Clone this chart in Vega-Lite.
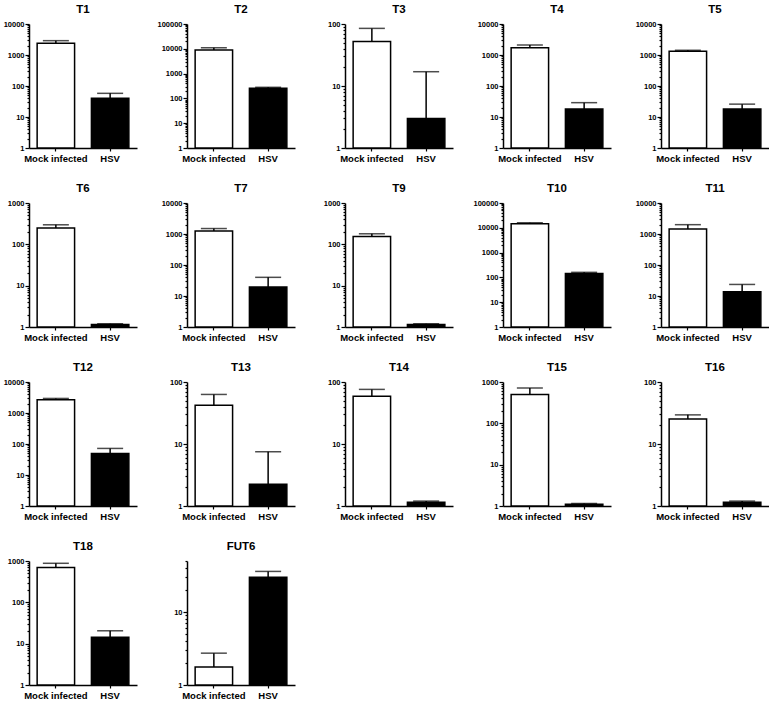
{
"$schema":"https://vega.github.io/schema/vega-lite/v6.json",
"padding":{"left":3,"top":3,"right":0,"bottom":0},
"data":{"values":[
{"gene":"T1","group":"Mock infected","mean":2400,"upper":2900},{"gene":"T1","group":"HSV","mean":40,"upper":58},
{"gene":"T2","group":"Mock infected","mean":9000,"upper":11000},{"gene":"T2","group":"HSV","mean":255,"upper":280},
{"gene":"T3","group":"Mock infected","mean":52,"upper":85},{"gene":"T3","group":"HSV","mean":3.0,"upper":17},
{"gene":"T4","group":"Mock infected","mean":1700,"upper":2100},{"gene":"T4","group":"HSV","mean":18,"upper":29},
{"gene":"T5","group":"Mock infected","mean":1330,"upper":1420},{"gene":"T5","group":"HSV","mean":18,"upper":26},
{"gene":"T6","group":"Mock infected","mean":247,"upper":297},{"gene":"T6","group":"HSV","mean":1.15,"upper":1.2},
{"gene":"T7","group":"Mock infected","mean":1250,"upper":1500},{"gene":"T7","group":"HSV","mean":19.5,"upper":40},
{"gene":"T9","group":"Mock infected","mean":155,"upper":180},{"gene":"T9","group":"HSV","mean":1.15,"upper":1.2},
{"gene":"T10","group":"Mock infected","mean":14700,"upper":16000},{"gene":"T10","group":"HSV","mean":142,"upper":160},
{"gene":"T11","group":"Mock infected","mean":1450,"upper":2000},{"gene":"T11","group":"HSV","mean":13.7,"upper":23.6},
{"gene":"T12","group":"Mock infected","mean":2700,"upper":2950},{"gene":"T12","group":"HSV","mean":49,"upper":72},
{"gene":"T13","group":"Mock infected","mean":42,"upper":63},{"gene":"T13","group":"HSV","mean":2.25,"upper":7.5},
{"gene":"T14","group":"Mock infected","mean":59,"upper":76},{"gene":"T14","group":"HSV","mean":1.15,"upper":1.2},
{"gene":"T15","group":"Mock infected","mean":500,"upper":720},{"gene":"T15","group":"HSV","mean":1.1,"upper":1.15},
{"gene":"T16","group":"Mock infected","mean":25.4,"upper":29.5},{"gene":"T16","group":"HSV","mean":1.15,"upper":1.2},
{"gene":"T18","group":"Mock infected","mean":700,"upper":880},{"gene":"T18","group":"HSV","mean":14.3,"upper":20.5},
{"gene":"FUT6","group":"Mock infected","mean":1.77,"upper":2.73},{"gene":"FUT6","group":"HSV","mean":30,"upper":36}
]},
"columns":5,
"bounds":"flush",
"spacing":{"row":55,"column":50},
"concat":[
{"title":"T1","transform":[{"filter":"datum.gene==='T1'"}],"width":108,"height":124,
 "encoding":{"x":{"field":"group","type":"nominal","sort":["Mock infected","HSV"],"scale":{"paddingInner":0.31,"paddingOuter":0.15},"axis":{"title":null}}},
 "layer":[
  {"mark":{"type":"rule","color":"black","strokeWidth":1.5},"encoding":{"y":{"field":"mean","type":"quantitative","scale":{"type":"log","domain":[1,10000],"nice":false},"axis":{"title":null,"values":[1,2,3,4,5,6,7,8,9,10,20,30,40,50,60,70,80,90,100,200,300,400,500,600,700,800,900,1000,2000,3000,4000,5000,6000,7000,8000,9000,10000,20000,30000,40000,50000,60000,70000,80000,90000,100000],"tickCount":100,"labelOverlap":false,"labelExpr":"indexof([1,10,100,1000,10000,100000], datum.value) >= 0 ? format(datum.value, 'd') : ''","tickSize":{"condition":{"test":"indexof([1,10,100,1000,10000,100000], datum.value) >= 0","value":4},"value":2}}},"y2":{"field":"upper"}}},
  {"mark":{"type":"bar","stroke":"black","strokeWidth":1.5},"encoding":{"y":{"field":"mean","type":"quantitative"},"y2":{"datum":1},"fill":{"field":"group","type":"nominal","scale":{"domain":["Mock infected","HSV"],"range":["white","black"]},"legend":null}}},
  {"mark":{"type":"tick","color":"black","thickness":1.5,"size":26},"encoding":{"y":{"field":"upper","type":"quantitative"}}}
 ]},
{"title":"T2","transform":[{"filter":"datum.gene==='T2'"}],"width":108,"height":124,
 "encoding":{"x":{"field":"group","type":"nominal","sort":["Mock infected","HSV"],"scale":{"paddingInner":0.31,"paddingOuter":0.15},"axis":{"title":null}}},
 "layer":[
  {"mark":{"type":"rule","color":"black","strokeWidth":1.5},"encoding":{"y":{"field":"mean","type":"quantitative","scale":{"type":"log","domain":[1,100000],"nice":false},"axis":{"title":null,"values":[1,2,3,4,5,6,7,8,9,10,20,30,40,50,60,70,80,90,100,200,300,400,500,600,700,800,900,1000,2000,3000,4000,5000,6000,7000,8000,9000,10000,20000,30000,40000,50000,60000,70000,80000,90000,100000],"tickCount":100,"labelOverlap":false,"labelExpr":"indexof([1,10,100,1000,10000,100000], datum.value) >= 0 ? format(datum.value, 'd') : ''","tickSize":{"condition":{"test":"indexof([1,10,100,1000,10000,100000], datum.value) >= 0","value":4},"value":2}}},"y2":{"field":"upper"}}},
  {"mark":{"type":"bar","stroke":"black","strokeWidth":1.5},"encoding":{"y":{"field":"mean","type":"quantitative"},"y2":{"datum":1},"fill":{"field":"group","type":"nominal","scale":{"domain":["Mock infected","HSV"],"range":["white","black"]},"legend":null}}},
  {"mark":{"type":"tick","color":"black","thickness":1.5,"size":26},"encoding":{"y":{"field":"upper","type":"quantitative"}}}
 ]},
{"title":"T3","transform":[{"filter":"datum.gene==='T3'"}],"width":108,"height":124,
 "encoding":{"x":{"field":"group","type":"nominal","sort":["Mock infected","HSV"],"scale":{"paddingInner":0.31,"paddingOuter":0.15},"axis":{"title":null}}},
 "layer":[
  {"mark":{"type":"rule","color":"black","strokeWidth":1.5},"encoding":{"y":{"field":"mean","type":"quantitative","scale":{"type":"log","domain":[1,100],"nice":false},"axis":{"title":null,"values":[1,2,3,4,5,6,7,8,9,10,20,30,40,50,60,70,80,90,100,200,300,400,500,600,700,800,900,1000,2000,3000,4000,5000,6000,7000,8000,9000,10000,20000,30000,40000,50000,60000,70000,80000,90000,100000],"tickCount":100,"labelOverlap":false,"labelExpr":"indexof([1,10,100,1000,10000,100000], datum.value) >= 0 ? format(datum.value, 'd') : ''","tickSize":{"condition":{"test":"indexof([1,10,100,1000,10000,100000], datum.value) >= 0","value":4},"value":2}}},"y2":{"field":"upper"}}},
  {"mark":{"type":"bar","stroke":"black","strokeWidth":1.5},"encoding":{"y":{"field":"mean","type":"quantitative"},"y2":{"datum":1},"fill":{"field":"group","type":"nominal","scale":{"domain":["Mock infected","HSV"],"range":["white","black"]},"legend":null}}},
  {"mark":{"type":"tick","color":"black","thickness":1.5,"size":26},"encoding":{"y":{"field":"upper","type":"quantitative"}}}
 ]},
{"title":"T4","transform":[{"filter":"datum.gene==='T4'"}],"width":108,"height":124,
 "encoding":{"x":{"field":"group","type":"nominal","sort":["Mock infected","HSV"],"scale":{"paddingInner":0.31,"paddingOuter":0.15},"axis":{"title":null}}},
 "layer":[
  {"mark":{"type":"rule","color":"black","strokeWidth":1.5},"encoding":{"y":{"field":"mean","type":"quantitative","scale":{"type":"log","domain":[1,10000],"nice":false},"axis":{"title":null,"values":[1,2,3,4,5,6,7,8,9,10,20,30,40,50,60,70,80,90,100,200,300,400,500,600,700,800,900,1000,2000,3000,4000,5000,6000,7000,8000,9000,10000,20000,30000,40000,50000,60000,70000,80000,90000,100000],"tickCount":100,"labelOverlap":false,"labelExpr":"indexof([1,10,100,1000,10000,100000], datum.value) >= 0 ? format(datum.value, 'd') : ''","tickSize":{"condition":{"test":"indexof([1,10,100,1000,10000,100000], datum.value) >= 0","value":4},"value":2}}},"y2":{"field":"upper"}}},
  {"mark":{"type":"bar","stroke":"black","strokeWidth":1.5},"encoding":{"y":{"field":"mean","type":"quantitative"},"y2":{"datum":1},"fill":{"field":"group","type":"nominal","scale":{"domain":["Mock infected","HSV"],"range":["white","black"]},"legend":null}}},
  {"mark":{"type":"tick","color":"black","thickness":1.5,"size":26},"encoding":{"y":{"field":"upper","type":"quantitative"}}}
 ]},
{"title":"T5","transform":[{"filter":"datum.gene==='T5'"}],"width":108,"height":124,
 "encoding":{"x":{"field":"group","type":"nominal","sort":["Mock infected","HSV"],"scale":{"paddingInner":0.31,"paddingOuter":0.15},"axis":{"title":null}}},
 "layer":[
  {"mark":{"type":"rule","color":"black","strokeWidth":1.5},"encoding":{"y":{"field":"mean","type":"quantitative","scale":{"type":"log","domain":[1,10000],"nice":false},"axis":{"title":null,"values":[1,2,3,4,5,6,7,8,9,10,20,30,40,50,60,70,80,90,100,200,300,400,500,600,700,800,900,1000,2000,3000,4000,5000,6000,7000,8000,9000,10000,20000,30000,40000,50000,60000,70000,80000,90000,100000],"tickCount":100,"labelOverlap":false,"labelExpr":"indexof([1,10,100,1000,10000,100000], datum.value) >= 0 ? format(datum.value, 'd') : ''","tickSize":{"condition":{"test":"indexof([1,10,100,1000,10000,100000], datum.value) >= 0","value":4},"value":2}}},"y2":{"field":"upper"}}},
  {"mark":{"type":"bar","stroke":"black","strokeWidth":1.5},"encoding":{"y":{"field":"mean","type":"quantitative"},"y2":{"datum":1},"fill":{"field":"group","type":"nominal","scale":{"domain":["Mock infected","HSV"],"range":["white","black"]},"legend":null}}},
  {"mark":{"type":"tick","color":"black","thickness":1.5,"size":26},"encoding":{"y":{"field":"upper","type":"quantitative"}}}
 ]},
{"title":"T6","transform":[{"filter":"datum.gene==='T6'"}],"width":108,"height":124,
 "encoding":{"x":{"field":"group","type":"nominal","sort":["Mock infected","HSV"],"scale":{"paddingInner":0.31,"paddingOuter":0.15},"axis":{"title":null}}},
 "layer":[
  {"mark":{"type":"rule","color":"black","strokeWidth":1.5},"encoding":{"y":{"field":"mean","type":"quantitative","scale":{"type":"log","domain":[1,1000],"nice":false},"axis":{"title":null,"values":[1,2,3,4,5,6,7,8,9,10,20,30,40,50,60,70,80,90,100,200,300,400,500,600,700,800,900,1000,2000,3000,4000,5000,6000,7000,8000,9000,10000,20000,30000,40000,50000,60000,70000,80000,90000,100000],"tickCount":100,"labelOverlap":false,"labelExpr":"indexof([1,10,100,1000,10000,100000], datum.value) >= 0 ? format(datum.value, 'd') : ''","tickSize":{"condition":{"test":"indexof([1,10,100,1000,10000,100000], datum.value) >= 0","value":4},"value":2}}},"y2":{"field":"upper"}}},
  {"mark":{"type":"bar","stroke":"black","strokeWidth":1.5},"encoding":{"y":{"field":"mean","type":"quantitative"},"y2":{"datum":1},"fill":{"field":"group","type":"nominal","scale":{"domain":["Mock infected","HSV"],"range":["white","black"]},"legend":null}}},
  {"mark":{"type":"tick","color":"black","thickness":1.5,"size":26},"encoding":{"y":{"field":"upper","type":"quantitative"}}}
 ]},
{"title":"T7","transform":[{"filter":"datum.gene==='T7'"}],"width":108,"height":124,
 "encoding":{"x":{"field":"group","type":"nominal","sort":["Mock infected","HSV"],"scale":{"paddingInner":0.31,"paddingOuter":0.15},"axis":{"title":null}}},
 "layer":[
  {"mark":{"type":"rule","color":"black","strokeWidth":1.5},"encoding":{"y":{"field":"mean","type":"quantitative","scale":{"type":"log","domain":[1,10000],"nice":false},"axis":{"title":null,"values":[1,2,3,4,5,6,7,8,9,10,20,30,40,50,60,70,80,90,100,200,300,400,500,600,700,800,900,1000,2000,3000,4000,5000,6000,7000,8000,9000,10000,20000,30000,40000,50000,60000,70000,80000,90000,100000],"tickCount":100,"labelOverlap":false,"labelExpr":"indexof([1,10,100,1000,10000,100000], datum.value) >= 0 ? format(datum.value, 'd') : ''","tickSize":{"condition":{"test":"indexof([1,10,100,1000,10000,100000], datum.value) >= 0","value":4},"value":2}}},"y2":{"field":"upper"}}},
  {"mark":{"type":"bar","stroke":"black","strokeWidth":1.5},"encoding":{"y":{"field":"mean","type":"quantitative"},"y2":{"datum":1},"fill":{"field":"group","type":"nominal","scale":{"domain":["Mock infected","HSV"],"range":["white","black"]},"legend":null}}},
  {"mark":{"type":"tick","color":"black","thickness":1.5,"size":26},"encoding":{"y":{"field":"upper","type":"quantitative"}}}
 ]},
{"title":"T9","transform":[{"filter":"datum.gene==='T9'"}],"width":108,"height":124,
 "encoding":{"x":{"field":"group","type":"nominal","sort":["Mock infected","HSV"],"scale":{"paddingInner":0.31,"paddingOuter":0.15},"axis":{"title":null}}},
 "layer":[
  {"mark":{"type":"rule","color":"black","strokeWidth":1.5},"encoding":{"y":{"field":"mean","type":"quantitative","scale":{"type":"log","domain":[1,1000],"nice":false},"axis":{"title":null,"values":[1,2,3,4,5,6,7,8,9,10,20,30,40,50,60,70,80,90,100,200,300,400,500,600,700,800,900,1000,2000,3000,4000,5000,6000,7000,8000,9000,10000,20000,30000,40000,50000,60000,70000,80000,90000,100000],"tickCount":100,"labelOverlap":false,"labelExpr":"indexof([1,10,100,1000,10000,100000], datum.value) >= 0 ? format(datum.value, 'd') : ''","tickSize":{"condition":{"test":"indexof([1,10,100,1000,10000,100000], datum.value) >= 0","value":4},"value":2}}},"y2":{"field":"upper"}}},
  {"mark":{"type":"bar","stroke":"black","strokeWidth":1.5},"encoding":{"y":{"field":"mean","type":"quantitative"},"y2":{"datum":1},"fill":{"field":"group","type":"nominal","scale":{"domain":["Mock infected","HSV"],"range":["white","black"]},"legend":null}}},
  {"mark":{"type":"tick","color":"black","thickness":1.5,"size":26},"encoding":{"y":{"field":"upper","type":"quantitative"}}}
 ]},
{"title":"T10","transform":[{"filter":"datum.gene==='T10'"}],"width":108,"height":124,
 "encoding":{"x":{"field":"group","type":"nominal","sort":["Mock infected","HSV"],"scale":{"paddingInner":0.31,"paddingOuter":0.15},"axis":{"title":null}}},
 "layer":[
  {"mark":{"type":"rule","color":"black","strokeWidth":1.5},"encoding":{"y":{"field":"mean","type":"quantitative","scale":{"type":"log","domain":[1,100000],"nice":false},"axis":{"title":null,"values":[1,2,3,4,5,6,7,8,9,10,20,30,40,50,60,70,80,90,100,200,300,400,500,600,700,800,900,1000,2000,3000,4000,5000,6000,7000,8000,9000,10000,20000,30000,40000,50000,60000,70000,80000,90000,100000],"tickCount":100,"labelOverlap":false,"labelExpr":"indexof([1,10,100,1000,10000,100000], datum.value) >= 0 ? format(datum.value, 'd') : ''","tickSize":{"condition":{"test":"indexof([1,10,100,1000,10000,100000], datum.value) >= 0","value":4},"value":2}}},"y2":{"field":"upper"}}},
  {"mark":{"type":"bar","stroke":"black","strokeWidth":1.5},"encoding":{"y":{"field":"mean","type":"quantitative"},"y2":{"datum":1},"fill":{"field":"group","type":"nominal","scale":{"domain":["Mock infected","HSV"],"range":["white","black"]},"legend":null}}},
  {"mark":{"type":"tick","color":"black","thickness":1.5,"size":26},"encoding":{"y":{"field":"upper","type":"quantitative"}}}
 ]},
{"title":"T11","transform":[{"filter":"datum.gene==='T11'"}],"width":108,"height":124,
 "encoding":{"x":{"field":"group","type":"nominal","sort":["Mock infected","HSV"],"scale":{"paddingInner":0.31,"paddingOuter":0.15},"axis":{"title":null}}},
 "layer":[
  {"mark":{"type":"rule","color":"black","strokeWidth":1.5},"encoding":{"y":{"field":"mean","type":"quantitative","scale":{"type":"log","domain":[1,10000],"nice":false},"axis":{"title":null,"values":[1,2,3,4,5,6,7,8,9,10,20,30,40,50,60,70,80,90,100,200,300,400,500,600,700,800,900,1000,2000,3000,4000,5000,6000,7000,8000,9000,10000,20000,30000,40000,50000,60000,70000,80000,90000,100000],"tickCount":100,"labelOverlap":false,"labelExpr":"indexof([1,10,100,1000,10000,100000], datum.value) >= 0 ? format(datum.value, 'd') : ''","tickSize":{"condition":{"test":"indexof([1,10,100,1000,10000,100000], datum.value) >= 0","value":4},"value":2}}},"y2":{"field":"upper"}}},
  {"mark":{"type":"bar","stroke":"black","strokeWidth":1.5},"encoding":{"y":{"field":"mean","type":"quantitative"},"y2":{"datum":1},"fill":{"field":"group","type":"nominal","scale":{"domain":["Mock infected","HSV"],"range":["white","black"]},"legend":null}}},
  {"mark":{"type":"tick","color":"black","thickness":1.5,"size":26},"encoding":{"y":{"field":"upper","type":"quantitative"}}}
 ]},
{"title":"T12","transform":[{"filter":"datum.gene==='T12'"}],"width":108,"height":124,
 "encoding":{"x":{"field":"group","type":"nominal","sort":["Mock infected","HSV"],"scale":{"paddingInner":0.31,"paddingOuter":0.15},"axis":{"title":null}}},
 "layer":[
  {"mark":{"type":"rule","color":"black","strokeWidth":1.5},"encoding":{"y":{"field":"mean","type":"quantitative","scale":{"type":"log","domain":[1,10000],"nice":false},"axis":{"title":null,"values":[1,2,3,4,5,6,7,8,9,10,20,30,40,50,60,70,80,90,100,200,300,400,500,600,700,800,900,1000,2000,3000,4000,5000,6000,7000,8000,9000,10000,20000,30000,40000,50000,60000,70000,80000,90000,100000],"tickCount":100,"labelOverlap":false,"labelExpr":"indexof([1,10,100,1000,10000,100000], datum.value) >= 0 ? format(datum.value, 'd') : ''","tickSize":{"condition":{"test":"indexof([1,10,100,1000,10000,100000], datum.value) >= 0","value":4},"value":2}}},"y2":{"field":"upper"}}},
  {"mark":{"type":"bar","stroke":"black","strokeWidth":1.5},"encoding":{"y":{"field":"mean","type":"quantitative"},"y2":{"datum":1},"fill":{"field":"group","type":"nominal","scale":{"domain":["Mock infected","HSV"],"range":["white","black"]},"legend":null}}},
  {"mark":{"type":"tick","color":"black","thickness":1.5,"size":26},"encoding":{"y":{"field":"upper","type":"quantitative"}}}
 ]},
{"title":"T13","transform":[{"filter":"datum.gene==='T13'"}],"width":108,"height":124,
 "encoding":{"x":{"field":"group","type":"nominal","sort":["Mock infected","HSV"],"scale":{"paddingInner":0.31,"paddingOuter":0.15},"axis":{"title":null}}},
 "layer":[
  {"mark":{"type":"rule","color":"black","strokeWidth":1.5},"encoding":{"y":{"field":"mean","type":"quantitative","scale":{"type":"log","domain":[1,100],"nice":false},"axis":{"title":null,"values":[1,2,3,4,5,6,7,8,9,10,20,30,40,50,60,70,80,90,100,200,300,400,500,600,700,800,900,1000,2000,3000,4000,5000,6000,7000,8000,9000,10000,20000,30000,40000,50000,60000,70000,80000,90000,100000],"tickCount":100,"labelOverlap":false,"labelExpr":"indexof([1,10,100,1000,10000,100000], datum.value) >= 0 ? format(datum.value, 'd') : ''","tickSize":{"condition":{"test":"indexof([1,10,100,1000,10000,100000], datum.value) >= 0","value":4},"value":2}}},"y2":{"field":"upper"}}},
  {"mark":{"type":"bar","stroke":"black","strokeWidth":1.5},"encoding":{"y":{"field":"mean","type":"quantitative"},"y2":{"datum":1},"fill":{"field":"group","type":"nominal","scale":{"domain":["Mock infected","HSV"],"range":["white","black"]},"legend":null}}},
  {"mark":{"type":"tick","color":"black","thickness":1.5,"size":26},"encoding":{"y":{"field":"upper","type":"quantitative"}}}
 ]},
{"title":"T14","transform":[{"filter":"datum.gene==='T14'"}],"width":108,"height":124,
 "encoding":{"x":{"field":"group","type":"nominal","sort":["Mock infected","HSV"],"scale":{"paddingInner":0.31,"paddingOuter":0.15},"axis":{"title":null}}},
 "layer":[
  {"mark":{"type":"rule","color":"black","strokeWidth":1.5},"encoding":{"y":{"field":"mean","type":"quantitative","scale":{"type":"log","domain":[1,100],"nice":false},"axis":{"title":null,"values":[1,2,3,4,5,6,7,8,9,10,20,30,40,50,60,70,80,90,100,200,300,400,500,600,700,800,900,1000,2000,3000,4000,5000,6000,7000,8000,9000,10000,20000,30000,40000,50000,60000,70000,80000,90000,100000],"tickCount":100,"labelOverlap":false,"labelExpr":"indexof([1,10,100,1000,10000,100000], datum.value) >= 0 ? format(datum.value, 'd') : ''","tickSize":{"condition":{"test":"indexof([1,10,100,1000,10000,100000], datum.value) >= 0","value":4},"value":2}}},"y2":{"field":"upper"}}},
  {"mark":{"type":"bar","stroke":"black","strokeWidth":1.5},"encoding":{"y":{"field":"mean","type":"quantitative"},"y2":{"datum":1},"fill":{"field":"group","type":"nominal","scale":{"domain":["Mock infected","HSV"],"range":["white","black"]},"legend":null}}},
  {"mark":{"type":"tick","color":"black","thickness":1.5,"size":26},"encoding":{"y":{"field":"upper","type":"quantitative"}}}
 ]},
{"title":"T15","transform":[{"filter":"datum.gene==='T15'"}],"width":108,"height":124,
 "encoding":{"x":{"field":"group","type":"nominal","sort":["Mock infected","HSV"],"scale":{"paddingInner":0.31,"paddingOuter":0.15},"axis":{"title":null}}},
 "layer":[
  {"mark":{"type":"rule","color":"black","strokeWidth":1.5},"encoding":{"y":{"field":"mean","type":"quantitative","scale":{"type":"log","domain":[1,1000],"nice":false},"axis":{"title":null,"values":[1,2,3,4,5,6,7,8,9,10,20,30,40,50,60,70,80,90,100,200,300,400,500,600,700,800,900,1000,2000,3000,4000,5000,6000,7000,8000,9000,10000,20000,30000,40000,50000,60000,70000,80000,90000,100000],"tickCount":100,"labelOverlap":false,"labelExpr":"indexof([1,10,100,1000,10000,100000], datum.value) >= 0 ? format(datum.value, 'd') : ''","tickSize":{"condition":{"test":"indexof([1,10,100,1000,10000,100000], datum.value) >= 0","value":4},"value":2}}},"y2":{"field":"upper"}}},
  {"mark":{"type":"bar","stroke":"black","strokeWidth":1.5},"encoding":{"y":{"field":"mean","type":"quantitative"},"y2":{"datum":1},"fill":{"field":"group","type":"nominal","scale":{"domain":["Mock infected","HSV"],"range":["white","black"]},"legend":null}}},
  {"mark":{"type":"tick","color":"black","thickness":1.5,"size":26},"encoding":{"y":{"field":"upper","type":"quantitative"}}}
 ]},
{"title":"T16","transform":[{"filter":"datum.gene==='T16'"}],"width":108,"height":124,
 "encoding":{"x":{"field":"group","type":"nominal","sort":["Mock infected","HSV"],"scale":{"paddingInner":0.31,"paddingOuter":0.15},"axis":{"title":null}}},
 "layer":[
  {"mark":{"type":"rule","color":"black","strokeWidth":1.5},"encoding":{"y":{"field":"mean","type":"quantitative","scale":{"type":"log","domain":[1,100],"nice":false},"axis":{"title":null,"values":[1,2,3,4,5,6,7,8,9,10,20,30,40,50,60,70,80,90,100,200,300,400,500,600,700,800,900,1000,2000,3000,4000,5000,6000,7000,8000,9000,10000,20000,30000,40000,50000,60000,70000,80000,90000,100000],"tickCount":100,"labelOverlap":false,"labelExpr":"indexof([1,10,100,1000,10000,100000], datum.value) >= 0 ? format(datum.value, 'd') : ''","tickSize":{"condition":{"test":"indexof([1,10,100,1000,10000,100000], datum.value) >= 0","value":4},"value":2}}},"y2":{"field":"upper"}}},
  {"mark":{"type":"bar","stroke":"black","strokeWidth":1.5},"encoding":{"y":{"field":"mean","type":"quantitative"},"y2":{"datum":1},"fill":{"field":"group","type":"nominal","scale":{"domain":["Mock infected","HSV"],"range":["white","black"]},"legend":null}}},
  {"mark":{"type":"tick","color":"black","thickness":1.5,"size":26},"encoding":{"y":{"field":"upper","type":"quantitative"}}}
 ]},
{"title":"T18","transform":[{"filter":"datum.gene==='T18'"}],"width":108,"height":124,
 "encoding":{"x":{"field":"group","type":"nominal","sort":["Mock infected","HSV"],"scale":{"paddingInner":0.31,"paddingOuter":0.15},"axis":{"title":null}}},
 "layer":[
  {"mark":{"type":"rule","color":"black","strokeWidth":1.5},"encoding":{"y":{"field":"mean","type":"quantitative","scale":{"type":"log","domain":[1,1000],"nice":false},"axis":{"title":null,"values":[1,2,3,4,5,6,7,8,9,10,20,30,40,50,60,70,80,90,100,200,300,400,500,600,700,800,900,1000,2000,3000,4000,5000,6000,7000,8000,9000,10000,20000,30000,40000,50000,60000,70000,80000,90000,100000],"tickCount":100,"labelOverlap":false,"labelExpr":"indexof([1,10,100,1000,10000,100000], datum.value) >= 0 ? format(datum.value, 'd') : ''","tickSize":{"condition":{"test":"indexof([1,10,100,1000,10000,100000], datum.value) >= 0","value":4},"value":2}}},"y2":{"field":"upper"}}},
  {"mark":{"type":"bar","stroke":"black","strokeWidth":1.5},"encoding":{"y":{"field":"mean","type":"quantitative"},"y2":{"datum":1},"fill":{"field":"group","type":"nominal","scale":{"domain":["Mock infected","HSV"],"range":["white","black"]},"legend":null}}},
  {"mark":{"type":"tick","color":"black","thickness":1.5,"size":26},"encoding":{"y":{"field":"upper","type":"quantitative"}}}
 ]},
{"title":"FUT6","transform":[{"filter":"datum.gene==='FUT6'"}],"width":108,"height":124,
 "encoding":{"x":{"field":"group","type":"nominal","sort":["Mock infected","HSV"],"scale":{"paddingInner":0.31,"paddingOuter":0.15},"axis":{"title":null}}},
 "layer":[
  {"mark":{"type":"rule","color":"black","strokeWidth":1.5},"encoding":{"y":{"field":"mean","type":"quantitative","scale":{"type":"log","domain":[1,50],"nice":false},"axis":{"title":null,"values":[1,2,3,4,5,6,7,8,9,10,20,30,40,50,60,70,80,90,100,200,300,400,500,600,700,800,900,1000,2000,3000,4000,5000,6000,7000,8000,9000,10000,20000,30000,40000,50000,60000,70000,80000,90000,100000],"tickCount":100,"labelOverlap":false,"labelExpr":"indexof([1,10,100,1000,10000,100000], datum.value) >= 0 ? format(datum.value, 'd') : ''","tickSize":{"condition":{"test":"indexof([1,10,100,1000,10000,100000], datum.value) >= 0","value":4},"value":2}}},"y2":{"field":"upper"}}},
  {"mark":{"type":"bar","stroke":"black","strokeWidth":1.5},"encoding":{"y":{"field":"mean","type":"quantitative"},"y2":{"datum":1},"fill":{"field":"group","type":"nominal","scale":{"domain":["Mock infected","HSV"],"range":["white","black"]},"legend":null}}},
  {"mark":{"type":"tick","color":"black","thickness":1.5,"size":26},"encoding":{"y":{"field":"upper","type":"quantitative"}}}
 ]}
],
"config":{
 "font":"Liberation Sans",
 "view":{"stroke":null},
 "axis":{"domainColor":"black","domainWidth":1.5,"tickColor":"black","tickWidth":1.2,"labelColor":"black","labelFontWeight":"bold","grid":false,"labelFlush":false},
 "axisX":{"labelFontSize":9.5,"tickSize":3,"labelPadding":2,"labelAngle":0},
 "axisY":{"labelFontSize":7.5,"labelPadding":1},
 "title":{"fontSize":11.5,"fontWeight":"bold","offset":5,"color":"black"}
}
}
